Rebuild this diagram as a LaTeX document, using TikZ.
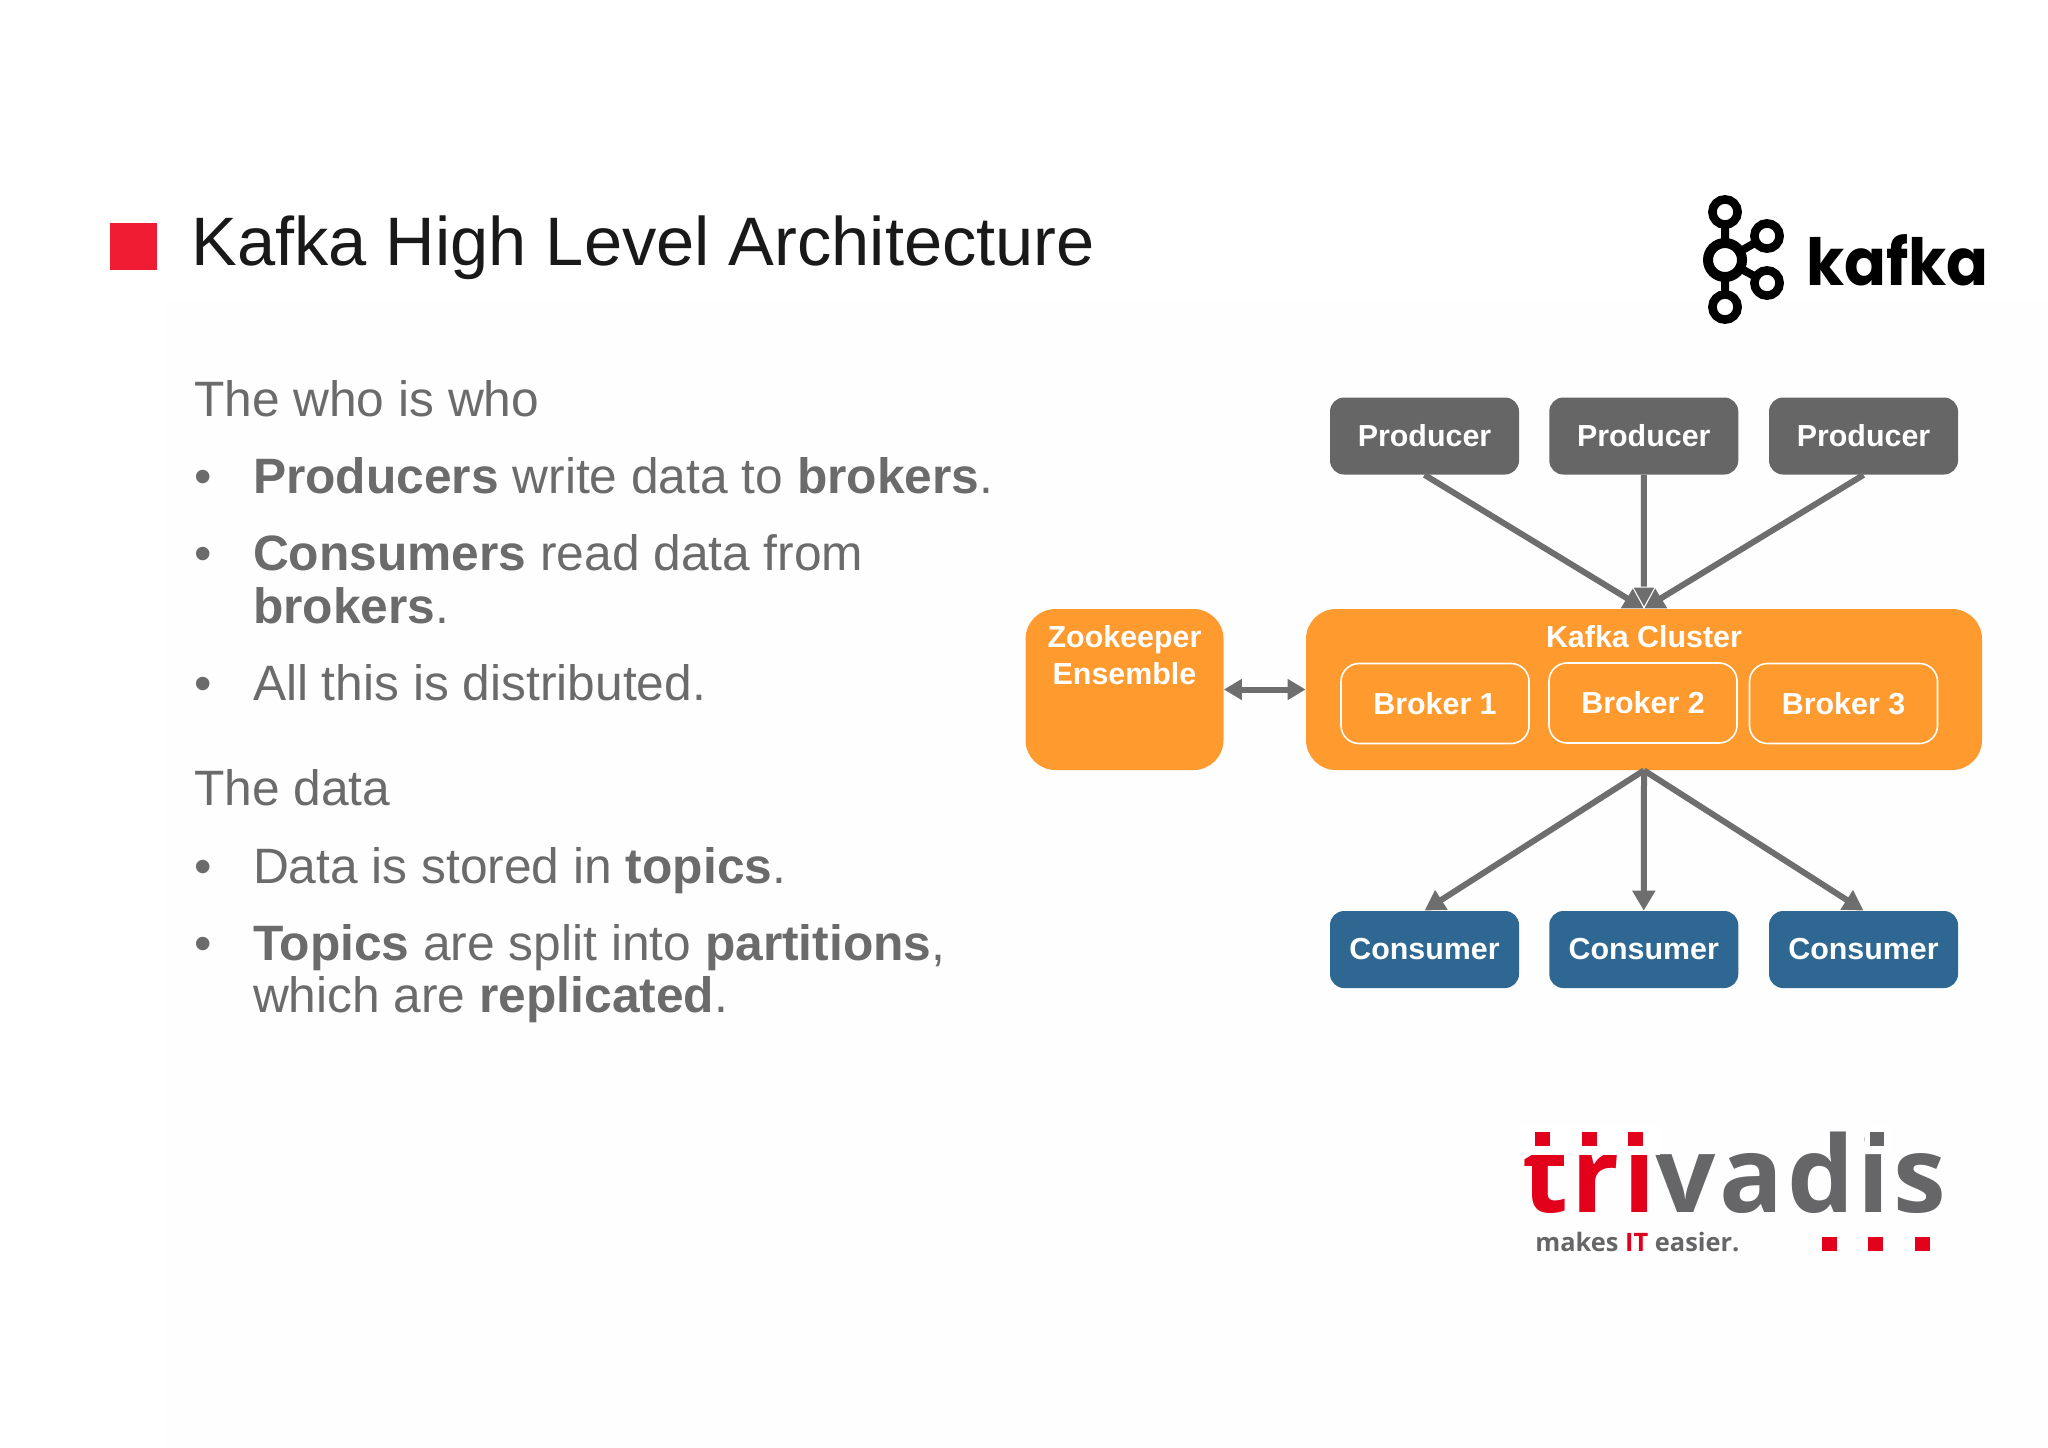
\documentclass[tikz,border=0pt]{standalone}
\usepackage{fontspec}
\setmainfont{Liberation Sans}
\newfontfamily\kafkafont{Poppins}
\newfontfamily\trivfont{Open Sans}
\newfontfamily\trivfontsp[LetterSpace=3.3]{Open Sans}
\usetikzlibrary{arrows.meta}
\definecolor{txt}{HTML}{6B6B6B}
\definecolor{org}{HTML}{FF9A2E}
\definecolor{blu}{HTML}{2E6892}
\definecolor{gnode}{HTML}{666666}
\definecolor{arr}{HTML}{6E6E6E}
\definecolor{redsq}{HTML}{F01C34}
\definecolor{trired}{HTML}{E2001A}
\definecolor{trigray}{HTML}{666668}
\definecolor{faint}{HTML}{FEFEFE}
\tikzset{
 lbl/.style={anchor=base west,inner sep=0pt,outer sep=0pt,text=txt,font=\fontsize{24.85}{29}\selectfont},
 tit/.style={anchor=base west,inner sep=0pt,text=black!90,font=\fontsize{34.3}{40}\selectfont},
 prodbox/.style={fill=gnode,rounded corners=7pt,minimum width=94.5pt,minimum height=38.5pt,inner sep=0pt,text=white,font=\fontsize{15.2}{18}\bfseries\selectfont},
 consbox/.style={prodbox,fill=blu},
 orgbox/.style={fill=org,rounded corners=15pt,inner sep=0pt},
 brokerbox/.style={draw=white,line width=.8pt,rounded corners=9pt,minimum width=94pt,minimum height=40pt,inner sep=0pt,text=white,font=\fontsize{15.2}{18}\bfseries\selectfont},
 wlbl/.style={inner sep=0pt,anchor=base,text=white,font=\fontsize{15.2}{18}\bfseries\selectfont},
 conn/.style={draw=arr,line width=3pt,-{Triangle[length=10pt,width=11pt]}},
 connw/.style={draw=arr,line width=3pt,-{Triangle[length=11pt,width=12pt,fill=arr,color=white,line width=.5pt]}},
 dconn/.style={draw=arr,line width=3pt,{Triangle[length=9pt,width=10pt]}-{Triangle[length=9pt,width=10pt]}},
 ring/.style={draw=black,fill=none},
 trisq/.style={fill=trired,inner sep=0pt,minimum size=7.4pt},
 grsq/.style={fill=trigray,inner sep=0pt,minimum size=7.4pt},
}
\begin{document}
\begin{tikzpicture}[x=.5pt,y=-.5pt]
\useasboundingbox (0,0) rectangle (2048,1447);
\fill[white] (0,0) rectangle (2048,1447);
\fill[faint] (165,300) rectangle (2048,1447);
% title
\node[fill=redsq,minimum width=23.5pt,minimum height=23.5pt,inner sep=0pt] (sq) at (133,246) {};
\node[tit] (title) at (191,265) {Kafka High Level Architecture};
% text
\node[lbl] (t1) at (194,416) {The who is who};
\node[lbl] (b1) at (194,493) {•};
\node[lbl] (l1) at (253,493) {\textbf{Producers} write data to \textbf{brokers}.};
\node[lbl] (b2) at (194,570) {•};
\node[lbl] (l2) at (253,570) {\textbf{Consumers} read data from};
\node[lbl] (l2b) at (253,623) {\textbf{brokers}.};
\node[lbl] (b3) at (194,700) {•};
\node[lbl] (l3) at (253,700) {All this is distributed.};
\node[lbl] (t2) at (194,805) {The data};
\node[lbl] (b4) at (194,883) {•};
\node[lbl] (l4) at (253,883) {Data is stored in \textbf{topics}.};
\node[lbl] (b5) at (194,960) {•};
\node[lbl] (l5) at (253,960) {\textbf{Topics} are split into \textbf{partitions},};
\node[lbl] (l5b) at (253,1012) {which are \textbf{replicated}.};
% diagram
\node[orgbox,minimum width=99pt,minimum height=80.5pt] (zk) at (1124.5,689.5) {};
\node[orgbox,minimum width=338pt,minimum height=80.5pt] (cl) at (1644,689.5) {};
\node[wlbl] (zkt) at (1124.5,647) {Zookeeper};
\node[wlbl] (zkt2) at (1124.5,684) {Ensemble};
\node[wlbl] (clt) at (1644,647) {Kafka Cluster};
\node[brokerbox] (br1) at (1435,703.5) {Broker 1};
\node[brokerbox] (br2) at (1643,703) {Broker 2};
\node[brokerbox] (br3) at (1843.5,703.5) {Broker 3};
\node[prodbox] (p1) at (1424.5,436) {Producer};
\node[prodbox] (p2) at (1643.75,436) {Producer};
\node[prodbox] (p3) at (1863.5,436) {Producer};
\node[consbox] (c1) at (1424.5,949.5) {Consumer};
\node[consbox] (c2) at (1643.75,949.5) {Consumer};
\node[consbox] (c3) at (1863.5,949.5) {Consumer};
\draw[conn] (p1.south) -- (cl.north);
\draw[conn] (p3.south) -- (cl.north);
\draw[connw] (p2.south) -- (cl.north);
\draw[conn] (cl.south) -- (c1.north);
\draw[conn] (cl.south) -- (c2.north);
\draw[conn] (cl.south) -- (c3.north);
\draw[dconn] (zk.east) -- (cl.west);
% kafka logo
\coordinate (kc) at (1725,260);
\coordinate (kt) at (1725,212);
\coordinate (kb) at (1725,307);
\coordinate (kr1) at (1767,236);
\coordinate (kr2) at (1767,283);
\draw[black,line width=4pt] (kc)--(kt) (kc)--(kb) (kc)--(kr1) (kc)--(kr2);
\foreach \c in {kt,kb,kr1,kr2} \draw[ring,fill=white,line width=4.3pt] (\c) circle (6.3pt);
\draw[ring,fill=white,line width=5pt] (kc) circle (8.5pt);
\node[anchor=base west,inner sep=0pt,text=black,xscale=.95,font=\kafkafont\bfseries\fontsize{32.5}{40}\selectfont] (kafka) at (1806,285) {kafka};
% trivadis logo
\node[anchor=base west,inner sep=0pt,font=\trivfontsp\bfseries\fontsize{53}{60}\selectfont] (triv) at (1522,1212) {\textcolor{trired}{tri}\textcolor{trigray}{vadis}};
\fill[white] (1520,1126) rectangle (1660,1155);
\fill[white] (1865,1126) rectangle (1890,1152);
\node[trisq] (d1) at (1542.5,1139) {};
\node[trisq] (d2) at (1589.5,1139) {};
\node[trisq] (d3) at (1635.5,1139) {};
\node[grsq] (d4) at (1877,1139) {};
\node[anchor=base west,inner sep=0pt,text=trigray,font=\trivfont\bfseries\fontsize{12.7}{16}\selectfont] (mk) at (1535,1251) {makes \textcolor{trired}{IT} easier.};
\node[trisq] (e1) at (1829.5,1244) {};
\node[trisq] (e2) at (1875.5,1244) {};
\node[trisq] (e3) at (1922.5,1244) {};
\end{tikzpicture}
\end{document}
